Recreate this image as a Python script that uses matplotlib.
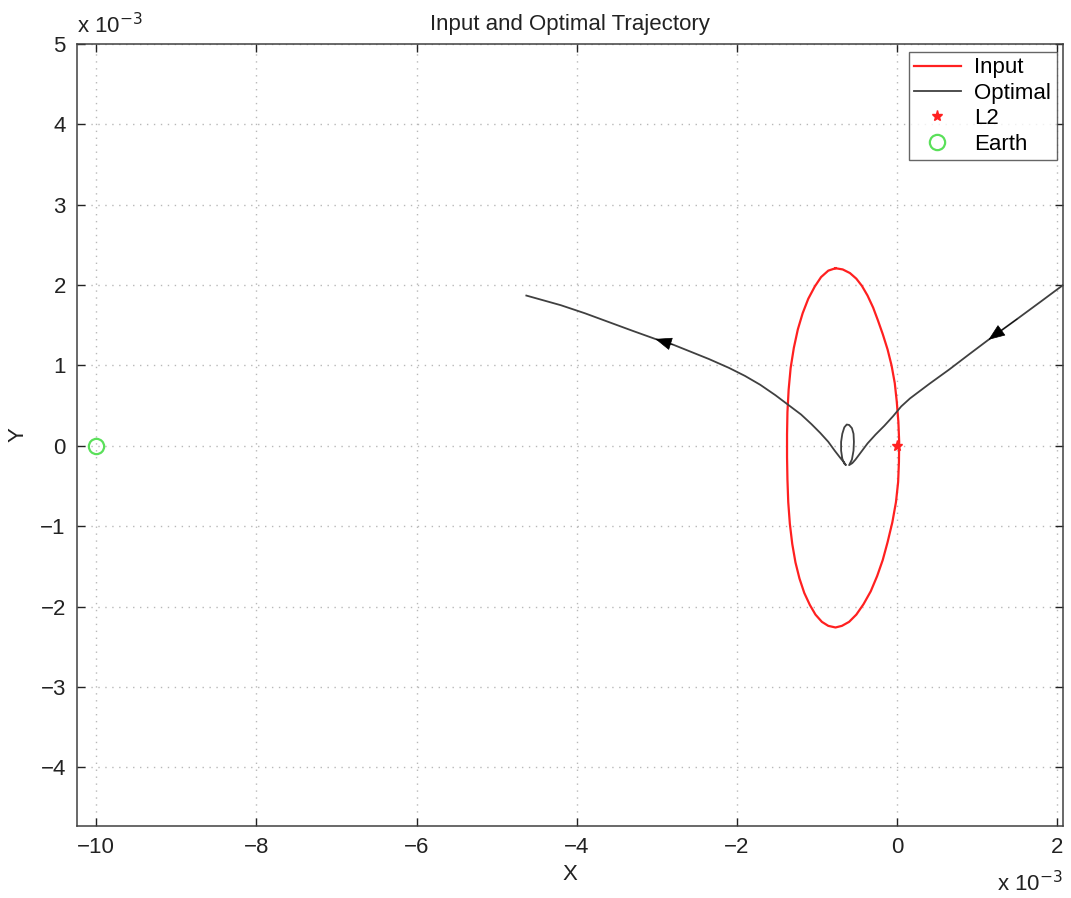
import matplotlib
matplotlib.use("Agg")
import matplotlib.pyplot as plt

plt.rcParams['font.family'] = ['Liberation Sans', 'DejaVu Sans']

# values in units of 1e-3
# input orbit around L2, going round from the top (right side down, left side up)
input_x = [-0.77, -0.68, -0.59, -0.51, -0.44, -0.37, -0.30, -0.24, -0.18, -0.12,
           -0.07, -0.03, -0.005, 0.015, 0.025, 0.022, 0.012, -0.015, -0.06, -0.12,
           -0.18, -0.25, -0.33, -0.42, -0.51, -0.60, -0.69, -0.77,
           -0.86, -0.94, -1.02, -1.09, -1.16, -1.22, -1.27, -1.31, -1.34, -1.36,
           -1.37, -1.375, -1.375, -1.37, -1.355, -1.33, -1.29, -1.24, -1.18, -1.11,
           -1.03, -0.95, -0.86, -0.77]
input_y = [2.21, 2.195, 2.15, 2.08, 1.99, 1.87, 1.72, 1.56, 1.39, 1.20,
           1.00, 0.78, 0.55, 0.30, 0.05, -0.20, -0.45, -0.70, -0.95, -1.20,
           -1.42, -1.62, -1.81, -1.97, -2.10, -2.19, -2.24, -2.26,
           -2.24, -2.19, -2.10, -1.98, -1.83, -1.65, -1.45, -1.22, -0.97, -0.70,
           -0.42, -0.14, 0.14, 0.42, 0.70, 0.97, 1.22, 1.45, 1.65, 1.83,
           1.98, 2.10, 2.18, 2.21]

# optimal trajectory: comes in from the right, small loop, leaves to the left
opt_x = [2.3, 2.07, 1.8, 1.5, 1.14, 0.9, 0.65, 0.4, 0.16, 0.05, -0.05, -0.16,
         -0.27, -0.37, -0.46, -0.52, -0.56, -0.60,
         -0.565, -0.545, -0.54, -0.545, -0.565, -0.60, -0.63, -0.66, -0.685,
         -0.70, -0.70, -0.685, -0.66, -0.64,
         -0.66, -0.71, -0.78, -0.86, -0.96, -1.07, -1.2, -1.36, -1.52, -1.71,
         -1.9, -2.1, -2.35, -2.6, -2.8, -3.02, -3.3, -3.6, -3.9, -4.2, -4.63]
opt_y = [2.17, 2.0, 1.80, 1.58, 1.32, 1.14, 0.95, 0.77, 0.59, 0.49, 0.37, 0.25,
         0.14, 0.03, -0.09, -0.17, -0.215, -0.24,
         -0.17, -0.06, 0.05, 0.15, 0.22, 0.26, 0.265, 0.23, 0.15,
         0.05, -0.06, -0.16, -0.22, -0.24,
         -0.21, -0.15, -0.06, 0.05, 0.16, 0.27, 0.39, 0.51, 0.63, 0.76,
         0.87, 0.97, 1.08, 1.18, 1.26, 1.33, 1.43, 1.54, 1.65, 1.75, 1.87]
# arrows: (tail index, head index) along the optimal trajectory
arrow_idx = [(3, 4), (46, 47)]

l2_x, l2_y = [0.0], [0.0]
earth_x, earth_y = [-10.0], [0.0]

xticks = [-10, -8, -6, -4, -2, 0, 2]
yticks = [-4, -3, -2, -1, 0, 1, 2, 3, 4, 5]

fig = plt.figure(figsize=(10.71, 8.98), dpi=100)
ax = fig.add_axes([0.0719, 0.0802, 0.9206, 0.8708])

ax.plot(input_x, input_y, color='#ff2020', lw=1.6, label='Input')
ax.plot(opt_x, opt_y, color='#404040', lw=1.3, label='Optimal')
ax.plot(l2_x, l2_y, ls='none', marker='*', color='#ff2020', ms=8, label='L2')
ax.plot(earth_x, earth_y, ls='none', marker='o', mfc='none', mec='#5ae05a',
        mew=1.6, ms=11, label='Earth')

for i, j in arrow_idx:
    ax.annotate('', xy=(opt_x[j], opt_y[j]), xytext=(opt_x[i], opt_y[i]),
                arrowprops=dict(arrowstyle='-|>,head_length=0.9,head_width=0.35',
                                color='black', lw=0.5,
                                mutation_scale=12, shrinkA=0, shrinkB=0))

ax.set_xlim(-10.24, 2.07)
ax.set_ylim(-4.73, 5.0)
ax.set_xticks(xticks)
ax.set_yticks(yticks)
ax.set_xticklabels([str(t).replace('-', '\u2212') for t in xticks])
ax.set_yticklabels([str(t).replace('-', '\u2212') for t in yticks])
ax.tick_params(direction='in', length=6, width=1, top=True, right=True,
               labelsize=16, pad=8, colors='#222222')
for s in ax.spines.values():
    s.set_color('#404040')
    s.set_linewidth(1.1)
ax.grid(True, color='#b8b8b8', ls=(0, (1, 4)), lw=1)

ax.set_title('Input and Optimal Trajectory', fontsize=16, pad=10, color='#222222')
ax.set_xlabel('X', fontsize=16, labelpad=4, color='#222222')
ax.set_ylabel('Y', fontsize=16, color='#222222')
ax.yaxis.set_label_coords(-0.049, 0.5)

ax.text(0.0, 1.008, r'x 10$^{-3}$', transform=ax.transAxes, fontsize=16,
        ha='left', va='bottom', color='#222222')
ax.text(1.0, -0.058, r'x 10$^{-3}$', transform=ax.transAxes, fontsize=16,
        ha='right', va='top', color='#222222')

leg = ax.legend(loc='upper right', bbox_to_anchor=(0.9935, 0.99), fontsize=16,
                frameon=True, fancybox=False, edgecolor='#404040',
                handlelength=2.1, borderpad=0.25, labelspacing=0.2,
                handletextpad=0.6, borderaxespad=0)
leg.get_frame().set_linewidth(1.0)

fig.savefig('out.png', dpi=100, facecolor='white')
